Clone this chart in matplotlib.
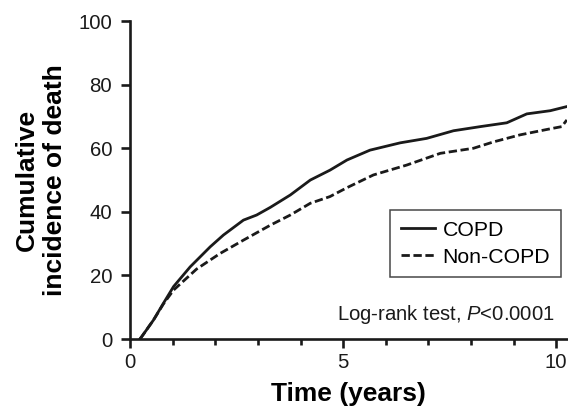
import matplotlib
matplotlib.use("Agg")
import matplotlib.pyplot as plt
from matplotlib.ticker import MultipleLocator

plt.rcParams['font.family'] = ['Liberation Sans', 'DejaVu Sans']
plt.rcParams['mathtext.fontset'] = 'custom'
plt.rcParams['mathtext.it'] = 'Liberation Sans:italic'
plt.rcParams['mathtext.rm'] = 'Liberation Sans'

copd_t = [0.23, 0.27, 0.55, 0.78, 1.02, 1.41, 1.88, 2.19, 2.66, 2.97, 3.29, 3.76, 4.23, 4.69, 5.09,
          5.63, 6.34, 6.96, 7.59, 8.22, 8.84, 9.31, 9.86, 10.25]
copd_v = [0.0, 0.7, 6.0, 11.2, 16.5, 22.7, 29.0, 32.7, 37.4, 39.0, 41.4, 45.3, 50.0, 53.1, 56.3,
          59.4, 61.7, 63.1, 65.5, 66.8, 68.0, 70.8, 71.8, 73.1]

non_t = [0.23, 0.27, 0.55, 0.78, 1.02, 1.56, 2.11, 2.66, 3.29, 3.76, 4.23, 4.69, 5.09,
         5.71, 6.49, 7.28, 8.06, 8.53, 9.15, 9.78, 10.13, 10.25]
non_v = [0.0, 0.7, 6.0, 11.0, 15.4, 22.0, 26.9, 31.1, 35.8, 39.0, 42.7, 44.8, 47.6,
         51.6, 54.7, 58.4, 60.0, 62.0, 64.2, 65.9, 66.8, 68.9]

series_labels = ["COPD", "Non-COPD"]
x_ticks = [0, 5, 10]
y_ticks = [0, 20, 40, 60, 80, 100]

fig = plt.figure(figsize=(5.68, 4.12), dpi=100)
ax = fig.add_axes([0.229, 0.177, 0.769, 0.772])

ink = '#1a1a1a'
ax.plot(copd_t, copd_v, color=ink, lw=2.0, label=series_labels[0])
ax.plot(non_t, non_v, color=ink, lw=2.0, dashes=(3.0, 1.3), label=series_labels[1])

ax.set_xlim(0, 10.25)
ax.set_ylim(0, 100)
ax.set_xticks(x_ticks)
ax.set_yticks(y_ticks)
ax.xaxis.set_minor_locator(MultipleLocator(1))

for s in ['top', 'right']:
    ax.spines[s].set_visible(False)
for s in ['left', 'bottom']:
    ax.spines[s].set_linewidth(1.9)
    ax.spines[s].set_color(ink)

ax.tick_params(axis='both', which='major', direction='out', length=6.5, width=1.9, labelsize=14.7,
               colors=ink)
ax.tick_params(axis='x', which='major', pad=3.5)
ax.tick_params(axis='y', which='major', pad=6.5)
ax.tick_params(axis='x', which='minor', direction='out', length=4.2, width=1.9, colors=ink)

ax.set_xlabel("Time (years)", fontsize=19, fontweight='bold', labelpad=7)
ax.set_ylabel("Cumulative\nincidence of death", fontsize=19, fontweight='bold', labelpad=8,
              linespacing=1.2)

leg = ax.legend(loc='upper left', bbox_to_anchor=(0.595, 0.406), borderaxespad=0, fontsize=15.3,
                frameon=True, fancybox=False, edgecolor=ink, handlelength=1.6,
                handletextpad=0.38, borderpad=0.5, labelspacing=0.38)
leg.get_frame().set_linewidth(1.1)

ax.text(0.973, 0.06, "Log-rank test, $P$<0.0001", transform=ax.transAxes,
        ha='right', va='baseline', fontsize=14.6, color=ink)

fig.savefig("out.png", dpi=100)
